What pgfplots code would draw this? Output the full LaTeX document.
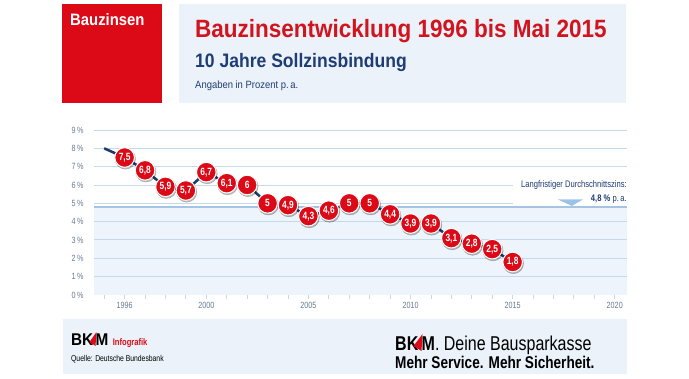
\documentclass[border=0pt]{standalone}
\usepackage{pgfplots}
\pgfplotsset{compat=1.18}
\usepackage{pgfplotstable}
\usepackage{fontspec}
\setmainfont{Liberation Sans}[FakeStretch=0.9]
\newfontfamily\condfont{Liberation Sans}[FakeStretch=0.8]
\definecolor{bkred}{HTML}{DC0A17}
\definecolor{titred}{HTML}{D2141E}
\definecolor{navy}{HTML}{1B3A6E}
\definecolor{subblue}{HTML}{1E3D74}
\definecolor{panel}{HTML}{EBF2FA}
\definecolor{plotfill}{HTML}{EEF4FB}
\definecolor{gridc}{HTML}{C4D8EE}
\definecolor{avgc}{HTML}{A6C3E4}
\definecolor{tri}{HTML}{9DC2E8}
\definecolor{tickc}{HTML}{6A7A90}

\pgfplotstableread{
year rate
1995 8.0
1996 7.5
1997 6.8
1998 5.9
1999 5.7
2000 6.7
2001 6.1
2002 6.0
2003 5.0
2004 4.9
2005 4.3
2006 4.6
2007 5.0
2008 5.0
2009 4.4
2010 3.9
2011 3.9
2012 3.1
2013 2.8
2014 2.5
2015 1.8
}\linedata

\pgfplotstableread{
year rate label
1996 7.5 7,5
1997 6.8 6,8
1998 5.9 5,9
1999 5.7 5,7
2000 6.7 6,7
2001 6.1 6,1
2002 6.0 6
2003 5.0 5
2004 4.9 4,9
2005 4.3 4,3
2006 4.6 4,6
2007 5.0 5
2008 5.0 5
2009 4.4 4,4
2010 3.9 3,9
2011 3.9 3,9
2012 3.1 3,1
2013 2.8 2,8
2014 2.5 2,5
2015 1.8 1,8
}\markdata

\begin{document}
\begin{tikzpicture}
\fill[white] (0pt,0pt) rectangle (689pt,379pt);
\useasboundingbox (0pt,0pt) rectangle (689pt,379pt);
% header
\fill[bkred] (62pt,276pt) rectangle (162pt,375pt);
\fill[panel] (179pt,276pt) rectangle (626pt,375pt);
\node[anchor=base west, inner sep=0, text=white, font=\bfseries\fontsize{16.5}{17}\selectfont] at (70pt,353pt) {Bauzinsen};
\node[anchor=base west, inner sep=0, text=titred, font=\bfseries\fontsize{25}{25}\selectfont] at (195pt,341pt) {Bauzinsentwicklung 1996 bis Mai 2015};
\node[anchor=base west, inner sep=0, text=subblue, font=\bfseries\fontsize{19.5}{20}\selectfont] at (195pt,311pt) {10 Jahre Sollzinsbindung};
\node[anchor=base west, inner sep=0, text=subblue, font=\fontsize{10.5}{11}\selectfont] at (195pt,290pt) {Angaben in Prozent p.\,a.};
% footer
\fill[panel] (63pt,5pt) rectangle (627pt,60pt);
\node[anchor=base west, inner sep=0, font=\bfseries\fontsize{17}{17}\selectfont] (bk1) at (71pt,33pt) {BK};
\fill[bkred] ([xshift=-4pt,yshift=4pt]bk1.base east) -- ([xshift=3pt,yshift=14pt]bk1.base east) -- ([xshift=2pt]bk1.base east) -- cycle;
\node[anchor=base west, inner sep=0, font=\bfseries\fontsize{17}{17}\selectfont] (m1) at ([xshift=2pt]bk1.base east) {M};
\node[anchor=base west, inner sep=0, text=bkred, font=\condfont\bfseries\fontsize{9.5}{10}\selectfont] at ([xshift=4pt]m1.base east) {Infografik};
\node[anchor=base west, inner sep=0, font=\condfont\fontsize{8.5}{9}\selectfont] at (71pt,17pt) {Quelle: Deutsche Bundesbank};
\node[anchor=base west, inner sep=0, font=\condfont\bfseries\fontsize{20}{20}\selectfont] (bk2) at (395pt,28pt) {BK};
\fill[bkred] ([xshift=-5pt,yshift=5pt]bk2.base east) -- ([xshift=4pt,yshift=17pt]bk2.base east) -- ([xshift=3pt]bk2.base east) -- cycle;
\node[anchor=base west, inner sep=0, font=\condfont\fontsize{20}{20}\selectfont] at ([xshift=3pt]bk2.base east) {\textbf{M}. Deine Bausparkasse};
\node[anchor=base west, inner sep=0, font=\condfont\bfseries\fontsize{17}{17}\selectfont] at (395pt,10pt) {Mehr Service. Mehr Sicherheit.};

\begin{axis}[
  at={(94pt,84pt)}, anchor=south west,
  scale only axis, width=533pt, height=165pt,
  xmin=1994.5, xmax=2020.6, ymin=0, ymax=9,
  axis lines*=left,
  y axis line style={draw=none},
  x axis line style={draw=gridc, line width=1pt},
  xtick={1996,2000,2005,2010,2015,2020},
  minor xtick={1995,...,2020},
  tick align=outside,
  major tick length=4pt, minor tick length=4pt,
  xtick style={draw=gridc, line width=0.8pt},
  ytick={0,...,9},
  ytick style={draw=none},
  /pgf/number format/1000 sep={},
  /pgf/number format/assume math mode=true,
  ticklabel style={font=\condfont\fontsize{9}{9}\selectfont, text=tickc},
  yticklabel={\pgfmathprintnumber{\tick}\,\%},
  yticklabel style={xshift=-3pt},
  clip=false,
]
\addplot[draw=none, fill=plotfill, forget plot] coordinates {(1994.5,4.8) (2020.6,4.8)} \closedcycle;
\pgfplotsinvokeforeach{1,...,9}{
  \addplot[gridc, line width=1pt, forget plot] coordinates {(1994.5,#1) (2020.6,#1)};
}
\addplot[avgc, line width=2pt] coordinates {(1994.5,4.8) (2020.6,4.8)};
\fill[white] (axis cs:2015.0,4.93) rectangle (axis cs:2020.6,6.45);
\addplot[navy, line width=2.5pt] table[x=year, y=rate] {\linedata};
\addplot[only marks, mark=*, mark size=10.2pt, mark options={fill=black, draw=none, opacity=0.25, xshift=0.8pt, yshift=-1.5pt}] table[x=year, y=rate] {\markdata};
\addplot[only marks, mark=*, mark size=9.8pt, mark options={fill=bkred, draw=white, line width=1pt},
  point meta=explicit symbolic,
  nodes near coords,
  every node near coord/.append style={anchor=center, text=white, inner sep=0pt, font=\condfont\bfseries\fontsize{10.5}{10}\selectfont},
] table[x=year, y=rate, meta=label] {\markdata};
\node[anchor=east, inner sep=0pt, text=subblue, font=\condfont\fontsize{9.5}{10}\selectfont] at (axis cs:2020.6,6.0) {Langfristiger Durchschnittszins:};
\node[anchor=east, inner sep=0pt, text=subblue, font=\condfont\fontsize{9.5}{10}\selectfont] at (axis cs:2020.6,5.25) {\textbf{4,8 \%} p.\,a.};
\fill[tri] (axis cs:2017.2,5.22) -- (axis cs:2018.45,5.22) -- (axis cs:2017.9,4.86) -- cycle;
\end{axis}
\end{tikzpicture}
\end{document}
